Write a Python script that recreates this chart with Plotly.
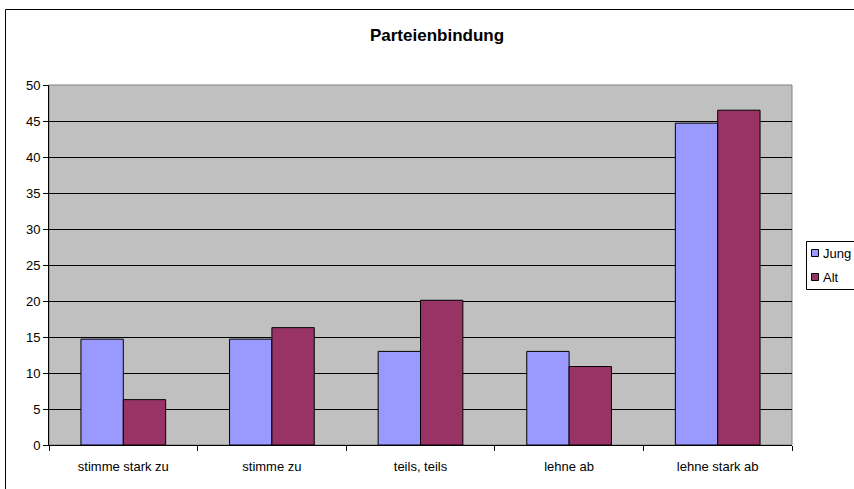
import plotly.graph_objects as go

categories = ["stimme stark zu", "stimme zu", "teils, teils", "lehne ab", "lehne stark ab"]
jung = [14.7, 14.7, 13.0, 13.0, 44.7]
alt = [6.3, 16.3, 20.1, 10.9, 46.5]
y_ticks = [0, 5, 10, 15, 20, 25, 30, 35, 40, 45, 50]
series_names = ["Jung", "Alt"]
series_colors = ["#9999FF", "#993366"]

W, H = 854, 489
L, R, T, B = 49, 62, 85, 44
pw, ph = W - L - R, H - T - B


def px_x(px):
    return (px - L) / pw


def px_y(py):
    return 1 - (py - T) / ph


fig = go.Figure()
for name, vals, col in zip(series_names, [jung, alt], series_colors):
    fig.add_trace(go.Bar(name=name, x=categories, y=vals, showlegend=False,
                         marker=dict(color=col, line=dict(color="black", width=1))))

font = "Liberation Sans, Arial, sans-serif"
fig.update_layout(
    width=W, height=H,
    margin=dict(l=L, r=R, t=T, b=B, autoexpand=False),
    paper_bgcolor="white", plot_bgcolor="#C0C0C0",
    barmode="group", bargap=0.43, bargroupgap=0,
    font=dict(family=font, size=13, color="black"),
    title=dict(text="<b>Parteienbindung</b>", x=437 / W, xanchor="center",
               y=1 - 35 / H, yanchor="middle", font=dict(size=17, family=font)),
    showlegend=False,
    xaxis=dict(type="category", showgrid=False, showline=True, linecolor="black", linewidth=1,
               ticks="outside", tickson="boundaries", ticklen=5, tickcolor="black",
               tickfont=dict(size=13), zeroline=False, ticklabelstandoff=9),
    yaxis=dict(range=[0, 50], tickvals=y_ticks, showgrid=True, gridcolor="black", gridwidth=1,
               showline=True, linecolor="black", linewidth=1, ticks="outside", ticklen=5,
               tickcolor="black", tickfont=dict(size=13), zeroline=False),
)

# plot area border (gray)
fig.add_shape(type="rect", xref="paper", yref="paper", x0=0, x1=1, y0=0, y1=1,
              line=dict(color="#808080", width=1), layer="below")
# outer chart border
fig.add_shape(type="rect", xref="paper", yref="paper",
              x0=px_x(5.5), x1=px_x(866), y0=px_y(500), y1=px_y(9.5),
              line=dict(color="black", width=1))

# legend box
fig.add_shape(type="rect", xref="paper", yref="paper",
              x0=px_x(806.5), x1=px_x(880), y0=px_y(289.5), y1=px_y(241.5),
              line=dict(color="black", width=1), fillcolor="white")
for i, (name, col) in enumerate(zip(series_names, series_colors)):
    cy = 253 + 24 * i
    fig.add_shape(type="rect", xref="paper", yref="paper",
                  x0=px_x(811.5), x1=px_x(818.5), y0=px_y(cy + 3.5), y1=px_y(cy - 3.5),
                  line=dict(color="black", width=1), fillcolor=col)
    fig.add_annotation(xref="paper", yref="paper", x=px_x(821), y=px_y(cy),
                       xanchor="left", yanchor="middle", text=name, showarrow=False,
                       font=dict(size=13, family=font))

fig.write_html("out.html", post_script="document.body.style.margin='0';",
               config={"displayModeBar": False})
